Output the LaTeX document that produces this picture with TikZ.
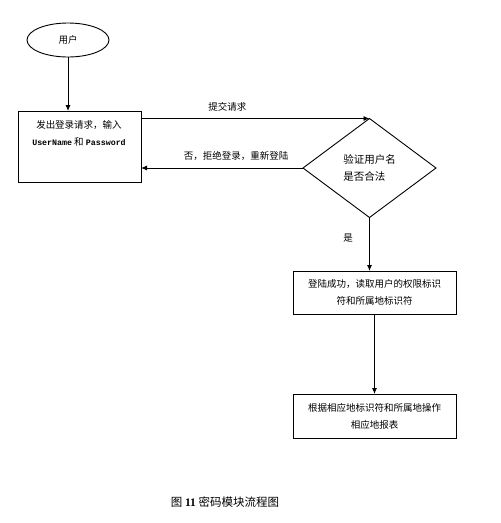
\documentclass[tikz,border=0pt]{standalone}
\usepackage{fontspec}
\setmainfont{Noto Sans CJK SC}
\newfontfamily\monof{Liberation Mono}
\newfontfamily\serf{Liberation Serif}
\usetikzlibrary{shapes.geometric,arrows.meta}
\begin{document}
\begin{tikzpicture}[x=1pt,y=-1pt,
  every node/.style={inner sep=0pt, outer sep=0pt},
  boxst/.style={draw, line width=0.9pt},
  txt/.style={font=\fontsize{9.5}{17}\selectfont, align=center},
  arr/.style={draw, line width=0.9pt, -{Latex[length=6pt,width=5pt]}}]
\useasboundingbox (0,0) rectangle (501,523);
\node[ellipse, draw, line width=0.9pt, minimum width=82pt, minimum height=34pt, font=\fontsize{9.5}{11}\selectfont] (user) at (68,40) {用户};
\node[boxst, minimum width=123pt, minimum height=71pt] (box1) at (79.5,146.5) {};
\node[txt] (t1) at (79,133) {发出登录请求，输入\\{\monof\bfseries\fontsize{8.3}{10}\selectfont UserName} 和 {\monof\bfseries\fontsize{8.3}{10}\selectfont Password}};
\node[diamond, draw, line width=0.9pt, minimum width=133pt, minimum height=99pt, aspect=1.34, align=left, font=\fontsize{10.5}{17}\selectfont] (dia) at (369.5,168) {验证用户名\\是否合法};
\node[boxst, minimum width=163pt, minimum height=43pt, txt] (box2) at (374.5,292.5) {登陆成功，读取用户的权限标识\\符和所属地标识符};
\node[boxst, minimum width=163pt, minimum height=44pt, txt] (box3) at (374.5,416) {根据相应地标识符和所属地操作\\相应地报表};
\draw[arr] (user) -- (user |- box1.north);
\draw[arr] (box1.east |- dia.north) -- node[above=7pt, font=\fontsize{9.5}{11}\selectfont, xshift=-28pt] (lsub) {提交请求} (dia.north);
\draw[arr] (dia.west) -- node[above=7pt, font=\fontsize{9.5}{11}\selectfont, xshift=14pt] (lno) {否，拒绝登录，重新登陆} (dia.west -| box1.east);
\draw[arr] (dia.south) -- (dia.south |- box2.north);
\node[font=\fontsize{9.5}{11}\selectfont] (lyes) at (348,238) {是};
\draw[arr] (box2.south) -- (box3.north);
\node[font=\fontsize{11.5}{13}\selectfont] (cap) at (225,502) {图 {\serf\bfseries 11} 密码模块流程图};
\end{tikzpicture}
\end{document}
